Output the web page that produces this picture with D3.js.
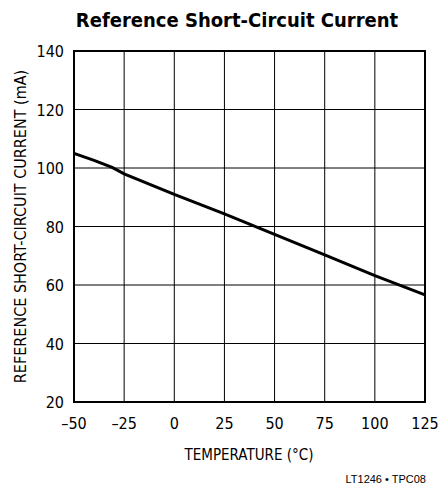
<!DOCTYPE html>
<html>
<head>
<meta charset="utf-8">
<script src="https://d3js.org/d3.v7.min.js"></script>
<style>
  body { margin: 0; background: #fff; }
  text { font-family: "Liberation Sans Narrow", "DejaVu Sans Condensed", sans-serif; fill: #000; }
</style>
</head>
<body>
<div id="chart"></div>
<script>
const temps = [-50, -40, -31, -25, 0, 25, 50, 75, 100, 125];
const currents = [105, 102.6, 100.2, 98, 91, 84.3, 77.3, 70.3, 63.2, 56.6];
const xTicks = [-50, -25, 0, 25, 50, 75, 100, 125];
const yTicks = [20, 40, 60, 80, 100, 120, 140];

const width = 441, height = 488;
const margin = {left: 74, right: 16, top: 51, bottom: 86};

const svg = d3.select("#chart").append("svg")
  .attr("width", width).attr("height", height);

const x = d3.scaleLinear().domain([-50, 125]).range([margin.left, width - margin.right]);
const y = d3.scaleLinear().domain([20, 140]).range([height - margin.bottom, margin.top]);

// grid
svg.append("g").selectAll("line").data(xTicks).join("line")
  .attr("x1", d => x(d)).attr("x2", d => x(d))
  .attr("y1", y(20)).attr("y2", y(140))
  .attr("stroke", "#000").attr("stroke-width", 1);
svg.append("g").selectAll("line").data(yTicks).join("line")
  .attr("x1", x(-50)).attr("x2", x(125))
  .attr("y1", d => y(d)).attr("y2", d => y(d))
  .attr("stroke", "#000").attr("stroke-width", 1);

// frame
svg.append("rect")
  .attr("x", x(-50)).attr("y", y(140))
  .attr("width", x(125) - x(-50)).attr("height", y(20) - y(140))
  .attr("fill", "none").attr("stroke", "#000").attr("stroke-width", 2);

// data line
svg.append("path")
  .datum(temps.map((t, i) => [t, currents[i]]))
  .attr("fill", "none").attr("stroke", "#000").attr("stroke-width", 3)
  .attr("d", d3.line().x(d => x(d[0])).y(d => y(d[1])));

// tick labels
svg.append("g").selectAll("text").data(xTicks).join("text")
  .attr("x", d => x(d)).attr("y", y(20) + 27)
  .attr("text-anchor", "middle").style("font-size", "16px")
  .text(d => d < 0 ? "\u2013" + Math.abs(d) : d);
svg.append("g").selectAll("text").data(yTicks).join("text")
  .attr("x", x(-50) - 10).attr("y", d => y(d) + 6)
  .attr("text-anchor", "end").style("font-size", "16px")
  .text(d => d);

// titles
svg.append("text").attr("x", 237).attr("y", 27)
  .attr("text-anchor", "middle")
  .style("font-size", "20px").style("font-weight", "bold")
  .text("Reference Short-Circuit Current");

svg.append("text").attr("x", 249).attr("y", 460)
  .attr("text-anchor", "middle").style("font-size", "15px")
  .text("TEMPERATURE (°C)");

svg.append("text")
  .attr("transform", `translate(26,${(y(20) + y(140)) / 2}) rotate(-90)`)
  .attr("text-anchor", "middle").style("font-size", "16px")
  .text("REFERENCE SHORT-CIRCUIT CURRENT (mA)");

svg.append("text").attr("x", 426).attr("y", 483)
  .attr("text-anchor", "end").style("font-size", "11px")
  .style("font-family", "Liberation Sans, Arial, sans-serif")
  .text("LT1246 • TPC08");
</script>
</body>
</html>
